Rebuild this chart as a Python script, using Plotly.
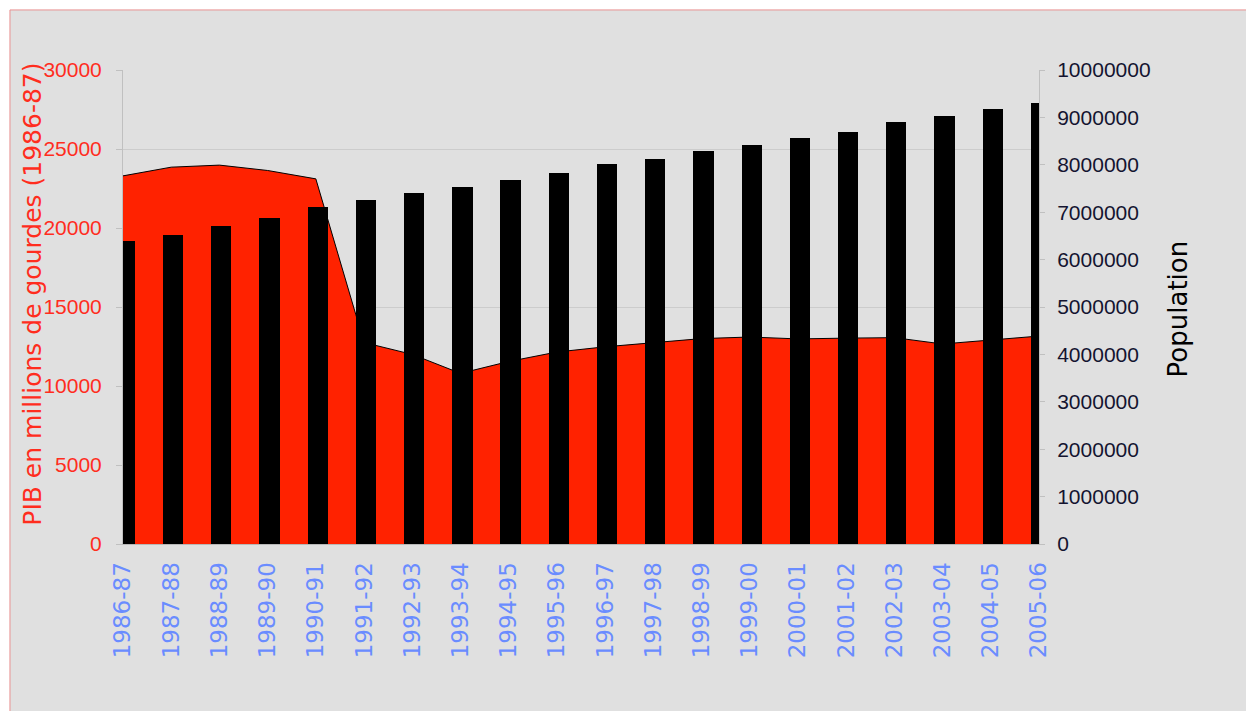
import plotly.graph_objects as go

categories = ["1986-87", "1987-88", "1988-89", "1989-90", "1990-91", "1991-92",
              "1992-93", "1993-94", "1994-95", "1995-96", "1996-97", "1997-98",
              "1998-99", "1999-00", "2000-01", "2001-02", "2002-03", "2003-04",
              "2004-05", "2005-06"]

pib = [23300, 23850, 23980, 23640, 23110, 12750, 12000, 10800, 11550, 12150,
       12480, 12750, 13000, 13100, 12980, 13030, 13060, 12660, 12910, 13160]

population = [6390000, 6510000, 6700000, 6880000, 7120000, 7260000, 7400000,
              7540000, 7670000, 7820000, 8010000, 8130000, 8290000, 8420000,
              8560000, 8700000, 8900000, 9020000, 9170000, 9300000]

left_ticks = [0, 5000, 10000, 15000, 20000, 25000, 30000]
right_ticks = [0, 1000000, 2000000, 3000000, 4000000, 5000000, 6000000,
               7000000, 8000000, 9000000, 10000000]

left_title = "PIB en millions de gourdes (1986-87)"
right_title = "Population"

idx = list(range(len(categories)))

BG = "#e0e0e0"
RED = "#ff2200"

fig = go.Figure()

fig.add_trace(go.Scatter(
    x=idx, y=pib, mode="lines", fill="tozeroy",
    fillcolor=RED, line=dict(color="#000000", width=1),
    yaxis="y", showlegend=False, hoverinfo="skip"))

fig.add_trace(go.Bar(
    x=idx, y=population, width=0.42, offset=-0.17,
    marker=dict(color="#000000", line=dict(width=0)),
    yaxis="y2", showlegend=False))

# dummy trace to host the gridline axis
fig.add_trace(go.Scatter(x=[0], y=[0], yaxis="y3", mode="markers",
                         marker=dict(opacity=0), showlegend=False,
                         hoverinfo="skip"))

fig.update_layout(
    width=1246, height=711,
    margin=dict(l=123, r=207, t=70, b=167, autoexpand=False),
    paper_bgcolor="#ffffff",
    plot_bgcolor=BG,
    bargap=0,
    xaxis=dict(
        range=[0, 19], tickmode="array", tickvals=idx, ticktext=categories,
        tickangle=-90, ticks="", showgrid=False, zeroline=False,
        showline=True, linecolor="#b8b8b8", linewidth=1,
        tickfont=dict(family="DejaVu Sans", size=23, color="#6a8cff"),
        ticklabelstandoff=8,
    ),
    yaxis=dict(
        range=[0, 30000], tickmode="array", tickvals=left_ticks,
        ticktext=[str(v) for v in left_ticks],
        showgrid=False, zeroline=False,
        showline=True, linecolor="#c0c0c0", linewidth=1,
        ticks="outside", ticklen=6, tickcolor="#c0c0c0",
        tickfont=dict(family="Liberation Sans", size=21, color="#ff2d1e"),
        ticklabelstandoff=10,
    ),
    yaxis2=dict(
        range=[0, 10000000], overlaying="y", side="right",
        tickmode="array", tickvals=right_ticks,
        ticktext=[str(v) for v in right_ticks],
        showgrid=False, zeroline=False,
        showline=True, linecolor="#c0c0c0", linewidth=1,
        ticks="outside", ticklen=5, tickcolor="#c0c0c0",
        tickfont=dict(family="Liberation Sans", size=21, color="#141430"),
        ticklabelstandoff=8,
    ),
    yaxis3=dict(
        range=[0, 30000], overlaying="y", side="left",
        tick0=5000, dtick=10000, showgrid=True, gridcolor="#cccccc",
        gridwidth=1, showticklabels=False, zeroline=False, showline=False,
        ticks="",
    ),
    shapes=[dict(
        type="rect", xref="paper", yref="paper",
        x0=-0.1234, x1=1.4, y0=-0.5, y1=1.1267,
        fillcolor=BG, line=dict(color="#e89090", width=1), layer="below")],
    annotations=[
        dict(text=left_title, xref="paper", yref="paper", x=-0.0983, y=0.528,
             textangle=-90, showarrow=False, xanchor="center", yanchor="middle",
             font=dict(family="DejaVu Sans", size=25, color="#ff2d1e")),
        dict(text=right_title, xref="paper", yref="paper", x=1.1517, y=0.497,
             textangle=-90, showarrow=False, xanchor="center", yanchor="middle",
             font=dict(family="DejaVu Sans", size=26, color="#000000")),
    ],
)

fig.write_html(
    "out.html",
    config={"displayModeBar": False},
    post_script="document.body.style.margin='0';document.body.style.overflow='hidden';",
)
